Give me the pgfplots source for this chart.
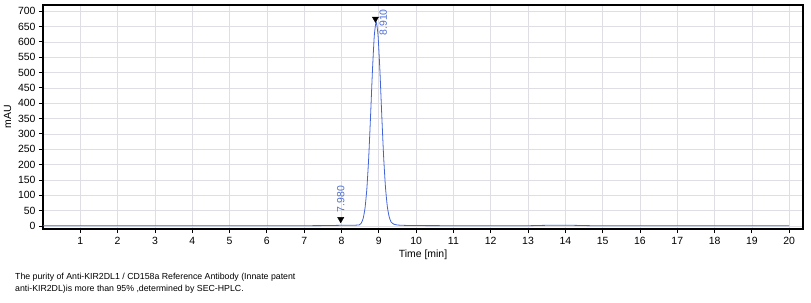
\documentclass[border=0pt]{standalone}
\usepackage{pgfplots}
\pgfplotsset{compat=1.18}
\usepackage{fontspec}
\setmainfont{Liberation Sans}
\definecolor{trace}{RGB}{65,100,215}
\definecolor{lbl}{RGB}{80,110,210}
\definecolor{gridc}{RGB}{222,222,228}
\begin{document}
\begin{tikzpicture}
\useasboundingbox (-43bp,-74bp) rectangle (768bp,229bp);
\begin{axis}[
  at={(0,0)}, anchor=south west,
  scale only axis, width=760bp, height=224bp,
  xmin=0, xmax=20.37, ymin=-10, ymax=720,
  xtick={1,2,...,20}, ytick={0,50,...,700},
  grid=major, grid style={gridc, line width=0.6pt},
  axis line style={black, line width=1.4pt},
  tick style={black, line width=0.8pt},
  tick align=outside, major tick length=4bp,
  xtick pos=bottom, ytick pos=left,
  /pgf/number format/assume math mode=true,
  tick label style={font=\fontsize{10.5}{12}\selectfont},
  xlabel={Time [min]}, ylabel={mAU},
  label style={font=\fontsize{10.5}{12}\selectfont},
  xlabel style={at={(ticklabel cs:0.5)}, yshift=2bp},
  ylabel style={at={(ticklabel cs:0.5)}, yshift=0bp},
  xticklabel style={yshift=-1bp},
  clip=false,
]
\addplot[trace, line width=0.8pt, smooth, tension=0.35] coordinates {
 (0,0.5) (2,0.5) (4,0.5) (6,0.5) (7,0.8) (7.6,1.2) (7.98,2) (8.2,2) (8.38,2.5) (8.48,3.5)
 (8.53,9) (8.58,24) (8.63,57) (8.68,121) (8.73,223) (8.78,360) (8.83,506) (8.88,621) (8.93,665)
 (8.98,621) (9.03,506) (9.08,360) (9.13,225) (9.18,125) (9.23,62) (9.28,29) (9.33,13) (9.4,6)
 (9.5,3) (9.7,1.8) (10,1.2) (11,0.8) (12,0.7) (13,0.8) (13.4,1.8) (13.8,2.4) (14.2,2) (14.6,1) (15,0.6) (16,0.5) (18,0.5) (20,0.5)
};
\addplot[only marks, black, mark=triangle*, mark size=3.6bp, mark options={rotate=180}] coordinates {(7.98,22) (8.91,675)};
\node[lbl, rotate=90, anchor=west, font=\fontsize{10.5}{12}\selectfont, inner sep=0pt] at (axis cs:7.98,44) {7.980};
\node[lbl, rotate=90, anchor=west, font=\fontsize{10.5}{12}\selectfont, inner sep=0pt] at (axis cs:9.12,620) {8.910};
\end{axis}
\node[anchor=north west, align=left, inner sep=0pt, font=\fontsize{8.8}{11.5}\selectfont] at (-28bp,-44bp)
 {The purity of Anti-KIR2DL1 / CD158a Reference Antibody (Innate patent\\anti-KIR2DL)is more than 95\% ,determined by SEC-HPLC.};
\end{tikzpicture}
\end{document}
